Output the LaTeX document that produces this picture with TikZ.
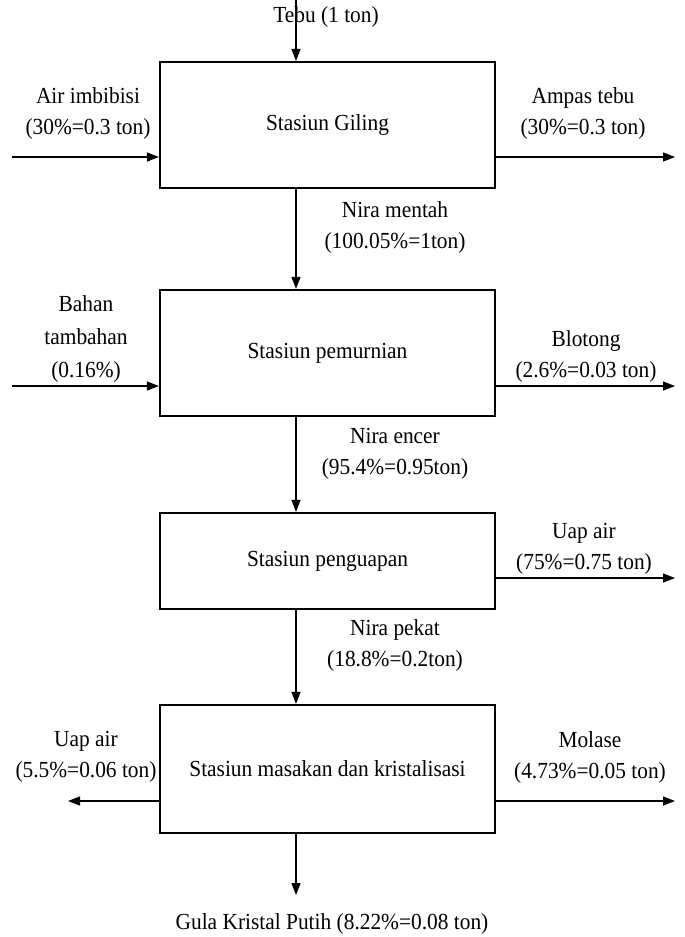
\documentclass[tikz,border=0pt]{standalone}
\usepackage{fontspec}
\setmainfont{Liberation Serif}[FakeStretch=0.93]
\usetikzlibrary{arrows.meta,calc}

\begin{document}
\begin{tikzpicture}[
  x=1pt, y=-1pt,
  % Station boxes
  station/.style={
    rectangle,
    draw=black,
    line width=2.2pt,
    minimum width=335pt,
    minimum height=#1,
    align=center,
    font=\fontsize{23}{31}\selectfont
  },
  % Flow labels
  flowlabel/.style={
    align=center,
    inner sep=0pt,
    font=\fontsize{23}{31}\selectfont
  },
  % Arrow style
  flow/.style={
    -{Triangle[length=12pt, width=9pt]},
    line width=1.3pt,
    draw=black
  }
]
\useasboundingbox (0,0) rectangle (685,937);

% === STATIONS ===
\node[station=126pt] (giling) at (327.5,125) {Stasiun Giling};
\node[station=126pt] (pemurnian) at (327.5,353) {Stasiun pemurnian};
\node[station=96pt] (penguapan) at (327.5,561) {Stasiun penguapan};
\node[station=128pt] (masakan) at (327.5,769) {Stasiun masakan dan kristalisasi};

% === LABELS ===
\node[flowlabel] (tebu) at (326,17) {Tebu (1 ton)};
\node[flowlabel] (imbibisi) at (88,113) {Air imbibisi\\(30\%=0.3 ton)};
\node[flowlabel] (ampas) at (583,113) {Ampas tebu\\(30\%=0.3 ton)};
\node[flowlabel] (mentah) at (395,227) {Nira mentah\\(100.05\%=1ton)};
\node[flowlabel, font=\fontsize{23}{33}\selectfont] (tambahan) at (86,339) {Bahan\\tambahan\\(0.16\%)};
\node[flowlabel] (blotong) at (586,356) {Blotong\\(2.6\%=0.03 ton)};
\node[flowlabel] (encer) at (395,453.5) {Nira encer\\(95.4\%=0.95ton)};
\node[flowlabel] (uapkanan) at (584,548.5) {Uap air\\(75\%=0.75 ton)};
\node[flowlabel] (pekat) at (395,645.5) {Nira pekat\\(18.8\%=0.2ton)};
\node[flowlabel] (uapkiri) at (86,757) {Uap air\\(5.5\%=0.06 ton)};
\node[flowlabel] (molase) at (590,757) {Molase\\(4.73\%=0.05 ton)};
\node[flowlabel] (gula) at (332,924) {Gula Kristal Putih (8.22\%=0.08 ton)};

% === FREE ENDS ===
\coordinate (tebuin) at (296,0);
\coordinate (imbibisiin) at (12,157);
\coordinate (ampasout) at (675,157);
\coordinate (tambahanin) at (12,386);
\coordinate (blotongout) at (675,386);
\coordinate (uapkananout) at (675,578);
\coordinate (uapkiriout) at (68,801);
\coordinate (molaseout) at (675,801);
\coordinate (gulaout) at (296,895);

% === ARROWS ===
\draw[flow] (tebuin) -- (tebuin |- giling.north);
\draw[flow] (imbibisiin) -- (imbibisiin -| giling.west);
\draw[flow] (ampasout -| giling.east) -- (ampasout);
\draw[flow] (tebuin |- giling.south) -- (tebuin |- pemurnian.north);
\draw[flow] (tambahanin) -- (tambahanin -| pemurnian.west);
\draw[flow] (blotongout -| pemurnian.east) -- (blotongout);
\draw[flow] (tebuin |- pemurnian.south) -- (tebuin |- penguapan.north);
\draw[flow] (uapkananout -| penguapan.east) -- (uapkananout);
\draw[flow] (tebuin |- penguapan.south) -- (tebuin |- masakan.north);
\draw[flow] (uapkiriout -| masakan.west) -- (uapkiriout);
\draw[flow] (molaseout -| masakan.east) -- (molaseout);
\draw[flow] (gulaout |- masakan.south) -- (gulaout);

\end{tikzpicture}
\end{document}
